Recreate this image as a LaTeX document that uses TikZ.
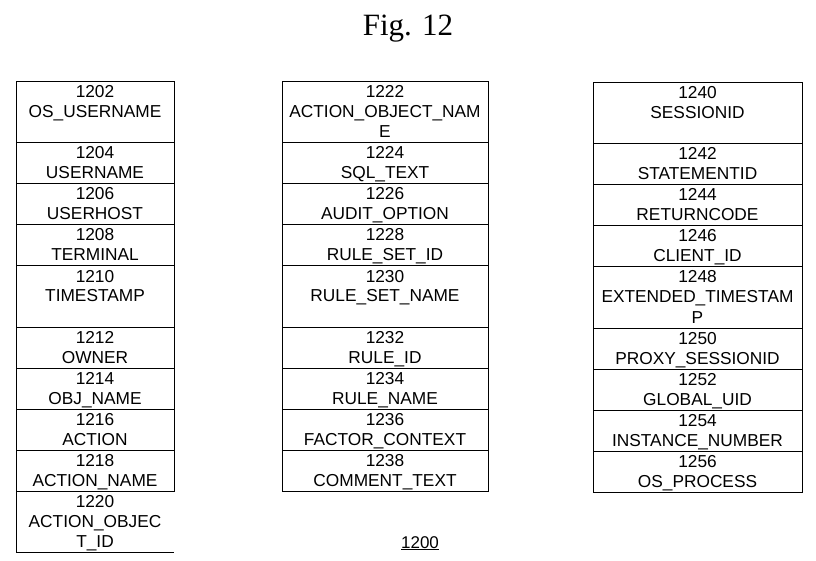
\documentclass[tikz,border=0pt]{standalone}
\usepackage{fontspec}
\setmainfont{Liberation Serif}
\setsansfont{Liberation Sans}
\usetikzlibrary{positioning}
\newcommand{\cs}{\rule[-4.5pt]{0pt}{20pt}}

\begin{document}
\begin{tikzpicture}[x=1pt, y=-1pt,
    cell/.style={draw, line width=1pt, outer sep=0pt, inner sep=0pt, anchor=north,
        align=center, font=\sffamily\fontsize{17.3}{20}\selectfont, minimum height=41pt},
    tall/.style={minimum height=61pt},
    leftcol/.style={cell, text width=158pt},
    midcol/.style={cell, text width=206pt},
    rightcol/.style={cell, text width=209pt}]
    \useasboundingbox (0,0) rectangle (816,561);

    % 标题
    \node[anchor=base, font=\fontsize{31}{36}\selectfont] (title) at (408,36) {Fig. 12};

    % 左列
    \node[leftcol, tall] (c1202) at (95,82) {\cs 1202\\\cs OS\_USERNAME\\\cs};
    \node[leftcol, below=0pt of c1202] (c1204) {\cs 1204\\\cs USERNAME};
    \node[leftcol, below=0pt of c1204] (c1206) {\cs 1206\\\cs USERHOST};
    \node[leftcol, below=0pt of c1206] (c1208) {\cs 1208\\\cs TERMINAL};
    \node[leftcol, tall, below=0pt of c1208] (c1210) {\cs 1210\\\cs TIMESTAMP\\\cs};
    \node[leftcol, below=0pt of c1210] (c1212) {\cs 1212\\\cs OWNER};
    \node[leftcol, below=0pt of c1212] (c1214) {\cs 1214\\\cs OBJ\_NAME};
    \node[leftcol, below=0pt of c1214] (c1216) {\cs 1216\\\cs ACTION};
    \node[leftcol, below=0pt of c1216] (c1218) {\cs 1218\\\cs ACTION\_NAME};
    \node[leftcol, tall, draw=none, below=0pt of c1218] (c1220) {\cs 1220\\\cs ACTION\_OBJEC\\\cs T\_ID};
    \draw[line width=1pt] (c1220.north west) -- (c1220.south west) -- (c1220.south east);

    % 中列
    \node[midcol, tall] (c1222) at (385,82) {\cs 1222\\\cs ACTION\_OBJECT\_NAM\\\cs E};
    \node[midcol, below=0pt of c1222] (c1224) {\cs 1224\\\cs SQL\_TEXT};
    \node[midcol, below=0pt of c1224] (c1226) {\cs 1226\\\cs AUDIT\_OPTION};
    \node[midcol, below=0pt of c1226] (c1228) {\cs 1228\\\cs RULE\_SET\_ID};
    \node[midcol, tall, below=0pt of c1228] (c1230) {\cs 1230\\\cs RULE\_SET\_NAME\\\cs};
    \node[midcol, below=0pt of c1230] (c1232) {\cs 1232\\\cs RULE\_ID};
    \node[midcol, below=0pt of c1232] (c1234) {\cs 1234\\\cs RULE\_NAME};
    \node[midcol, below=0pt of c1234] (c1236) {\cs 1236\\\cs FACTOR\_CONTEXT};
    \node[midcol, below=0pt of c1236] (c1238) {\cs 1238\\\cs COMMENT\_TEXT};

    % 右列
    \node[rightcol, tall] (c1240) at (697.5,83) {\cs 1240\\\cs SESSIONID\\\cs};
    \node[rightcol, below=0pt of c1240] (c1242) {\cs 1242\\\cs STATEMENTID};
    \node[rightcol, below=0pt of c1242] (c1244) {\cs 1244\\\cs RETURNCODE};
    \node[rightcol, below=0pt of c1244] (c1246) {\cs 1246\\\cs CLIENT\_ID};
    \node[rightcol, tall, below=0pt of c1246] (c1248) {\cs 1248\\\cs EXTENDED\_TIMESTAM\\\cs P};
    \node[rightcol, below=0pt of c1248] (c1250) {\cs 1250\\\cs PROXY\_SESSIONID};
    \node[rightcol, below=0pt of c1250] (c1252) {\cs 1252\\\cs GLOBAL\_UID};
    \node[rightcol, below=0pt of c1252] (c1254) {\cs 1254\\\cs INSTANCE\_NUMBER};
    \node[rightcol, below=0pt of c1254] (c1256) {\cs 1256\\\cs OS\_PROCESS};

    % 标注
    \node[anchor=base, font=\sffamily\fontsize{17}{18}\selectfont] (ref) at (420,548) {\underline{1200}};
\end{tikzpicture}
\end{document}
